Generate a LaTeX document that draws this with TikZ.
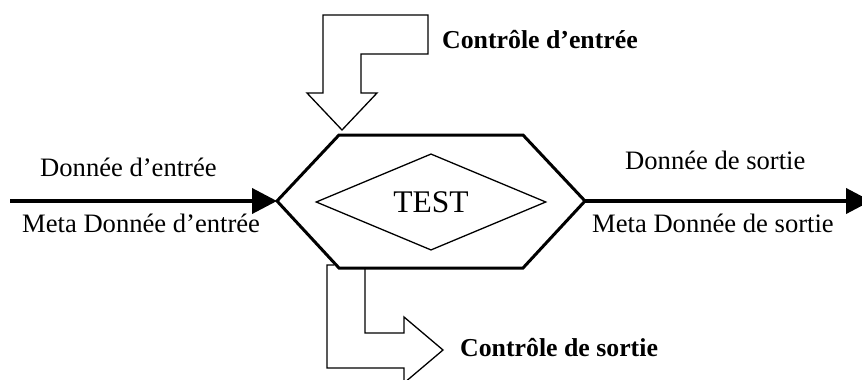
\documentclass[tikz,border=0pt]{standalone}
\usepackage{fontspec}
\setmainfont{Liberation Serif}
\usetikzlibrary{shapes.geometric,arrows.meta}

\tikzset{
  lbl/.style={anchor=base west, inner sep=0pt, font=\fontsize{26.6}{31}\selectfont},
  lblbold/.style={anchor=base west, inner sep=0pt, font=\fontsize{25.8}{30}\selectfont\bfseries},
  hexline/.style={line width=3pt, line join=miter},
  bentarrow/.style={line width=1.3pt, line join=miter},
  flow/.style={line width=4pt, -{Triangle[length=25pt,width=25pt]}},
  testbox/.style={shape=diamond, draw, line width=1.3pt, inner sep=0pt,
    minimum width=230pt, minimum height=96pt,
    font=\fontsize{31.5}{36}\selectfont}
}

\begin{document}
\begin{tikzpicture}[x=1pt, y=-1pt]
  \useasboundingbox (0,0) rectangle (862,380);

  % hexagonal test block
  \coordinate (hexW)  at (277,201);
  \coordinate (hexNW) at (339,135);
  \coordinate (hexNE) at (523,135);
  \coordinate (hexE)  at (585,201);
  \coordinate (hexSE) at (523,268);
  \coordinate (hexSW) at (339,268);
  \draw[hexline] (hexW) -- (hexNW) -- (hexNE) -- (hexE) -- (hexSE) -- (hexSW) -- cycle;

  % decision inside the block
  \node[testbox] (test) at (431,202) {TEST};

  % data flow in and out
  \coordinate (inStart) at (10,201);
  \coordinate (outEnd)  at (871,201);
  \draw[flow] (inStart) -- (hexW);
  \draw[flow] (hexE) -- (outEnd);

  % input control: bent block arrow coming down onto the block
  \draw[bentarrow] (323,15) -- (428,15) -- (428,54) -- (361,54) -- (361,93)
    -- (377,93) -- (342,130) -- (307,93) -- (323,93) -- cycle;

  % output control: bent block arrow leaving the bottom of the block
  \draw[bentarrow] (334,265) -- (327,265) -- (327,368) -- (404,368) -- (404,383)
    -- (443,350) -- (404,317) -- (404,333) -- (365,333) -- (365,268);

  % labels
  \node[lbl] (din)   at (40,176)  {Donnée d’entrée};
  \node[lbl] (mdin)  at (22,232)  {Meta Donnée d’entrée};
  \node[lbl] (dout)  at (625,169) {Donnée de sortie};
  \node[lbl] (mdout) at (592,232) {Meta Donnée de sortie};
  \node[lblbold] (cin)  at (442,48)  {Contrôle d’entrée};
  \node[lblbold] (cout) at (460,356) {Contrôle de sortie};
\end{tikzpicture}
\end{document}
